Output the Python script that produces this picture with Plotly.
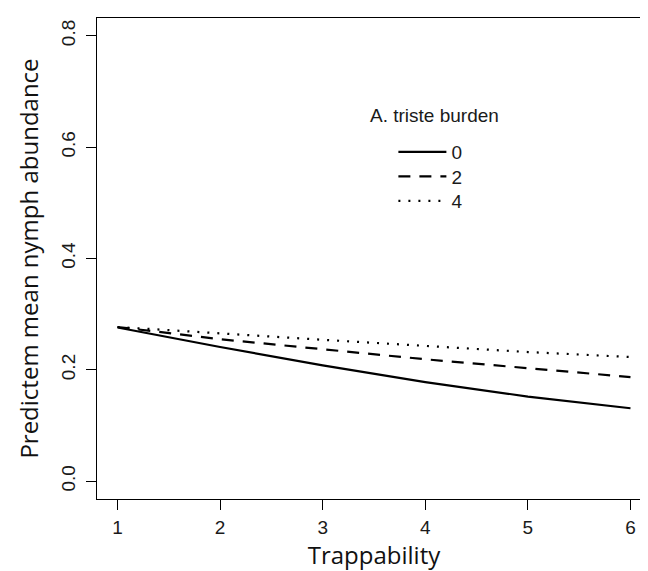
import plotly.graph_objects as go

trappability = [1, 2, 3, 4, 5, 6]
burden_0 = [0.276, 0.241, 0.208, 0.178, 0.152, 0.131]
burden_2 = [0.277, 0.255, 0.237, 0.219, 0.203, 0.187]
burden_4 = [0.277, 0.265, 0.254, 0.243, 0.232, 0.223]
series_names = ["0", "2", "4"]
legend_title = "A. triste burden"
x_ticks = [1, 2, 3, 4, 5, 6]
y_ticks = [0.0, 0.2, 0.4, 0.6, 0.8]
y_tick_labels = ["0.0", "0.2", "0.4", "0.6", "0.8"]

TICK_FONT = dict(family="Liberation Sans, Arial, sans-serif", size=19, color="#1a1a1a")
TITLE_FONT = dict(family="Open Sans, sans-serif", size=24, color="#111")

legend_ids = ["legend", "legend2", "legend3"]
legend_tops = [0.761, 0.710, 0.659]

fig = go.Figure()
for name, ys, dash, lg in zip(series_names, [burden_0, burden_2, burden_4],
                              ["solid", "12px,9px", "2px,8px"], legend_ids):
    fig.add_trace(go.Scatter(x=trappability, y=ys, mode="lines", name=name, legend=lg,
                             line=dict(color="black", width=2.2, dash=dash)))

axis_common = dict(showgrid=False, zeroline=False, showline=True, linecolor="black", linewidth=1.3,
                   mirror=True, ticks="outside", ticklen=10, tickcolor="black", tickwidth=1.3,
                   tickfont=TICK_FONT)

legend_style = dict(x=0.535, xanchor="left", yanchor="top", bgcolor="rgba(0,0,0,0)",
                    font=TICK_FONT, itemwidth=48, tracegroupgap=0)

fig.update_layout(
    width=648, height=571,
    paper_bgcolor="white", plot_bgcolor="white",
    margin=dict(l=89, r=5, t=10, b=80),
    xaxis=dict(range=[0.8, 6.2], tickvals=x_ticks, ticklabelstandoff=1,
               title=dict(text="Trappability", font=TITLE_FONT, standoff=0),
               **axis_common),
    yaxis=dict(range=[-0.032, 0.832], tickvals=y_ticks, ticktext=y_tick_labels, tickangle=-90,
               ticklabelstandoff=3,
               title=dict(text="Predictem mean nymph abundance", font=TITLE_FONT, standoff=12),
               **axis_common),
    showlegend=True,
    annotations=[dict(text=legend_title, xref="paper", yref="paper", x=0.49, y=0.798,
                      xanchor="left", yanchor="middle", showarrow=False, font=TICK_FONT)],
)
for lg, top in zip(legend_ids, legend_tops):
    fig.update_layout({lg: dict(y=top, **legend_style)})

fig.write_html("out.html")
